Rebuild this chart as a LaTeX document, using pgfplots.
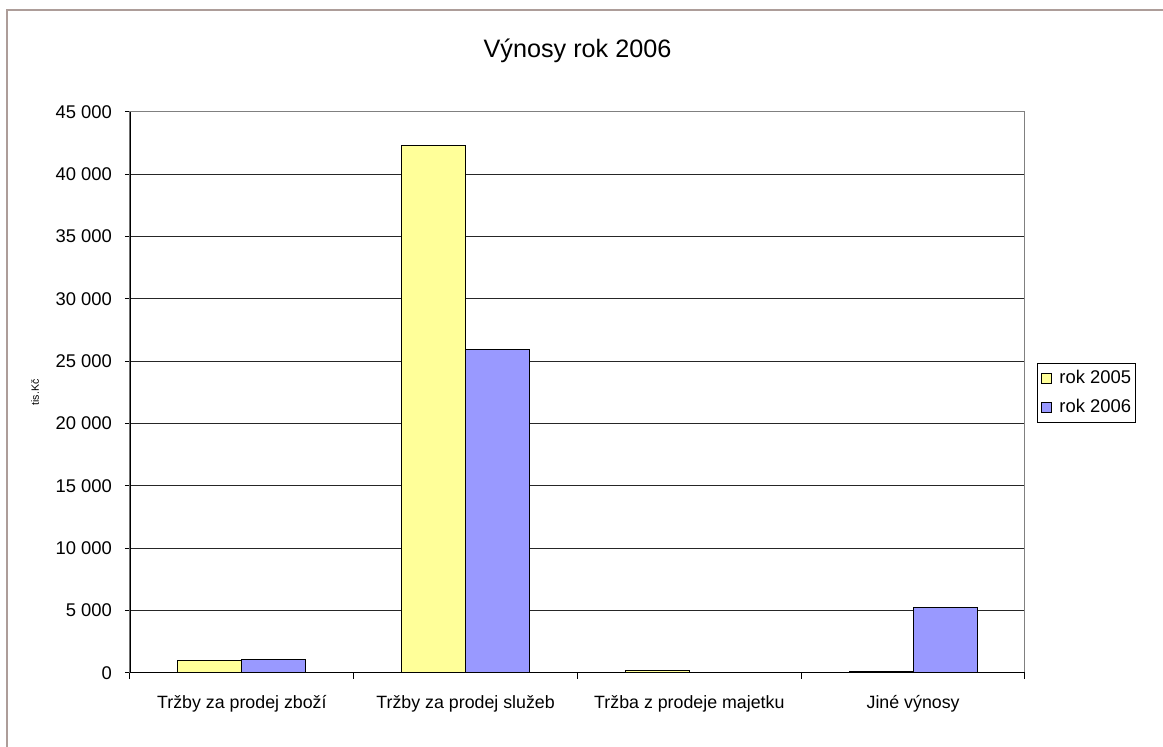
\documentclass[border=0pt]{standalone}
\usepackage{pgfplots}
\pgfplotsset{compat=1.18}
\usepackage{fontspec}
\setmainfont{Liberation Sans}
\definecolor{yel}{HTML}{FFFF99}
\definecolor{blu}{HTML}{9999FF}
\definecolor{framec}{HTML}{AD9D99}
\begin{document}
\begin{tikzpicture}
\useasboundingbox (-65pt,-37pt) rectangle (516.5pt,336.5pt);
\fill[white] (-65pt,-37pt) rectangle (516.5pt,336.5pt);
\draw[framec, line width=1pt] (-61.25pt,-40pt) -- (-61.25pt,331.5pt) -- (520pt,331.5pt);
\begin{axis}[
  at={(0,0)}, anchor=south west,
  scale only axis, width=447.5pt, height=280.5pt,
  ybar=0pt, bar width=32pt,
  xmin=-0.5, xmax=3.5, ymin=0, ymax=45000,
  ytick={0,5000,...,45000},
  scaled y ticks=false,
  /pgf/number format/.cd, 1000 sep={\ }, assume math mode=true, /pgfplots/.cd,
  xtick={0,1,2,3},
  xticklabels={Tržby za prodej zboží, Tržby za prodej služeb, Tržba z prodeje majetku, Jiné výnosy},
  minor xtick={-0.5,0.5,1.5,2.5,3.5},
  tick pos=left,
  tick align=outside,
  major tick length=2.5pt,
  minor tick length=3pt,
  major x tick style={draw=none},
  tick style={black, line width=0.5pt},
  ymajorgrids,
  major grid style={black!85, line width=0.5pt},
  axis line style={draw=black!50, line width=0.5pt},
  tick label style={font=\fontsize{9.2}{11}\selectfont},
  xticklabel style={yshift=-5pt, font=\fontsize{8.9}{11}\selectfont},
  yticklabel style={xshift=-3pt},
  title={Výnosy rok 2006},
  title style={at={(axis description cs:0.5,1.0873)}, anchor=center, yshift=0pt, font=\fontsize{12.6}{15}\selectfont},
  ylabel={tis.Kč},
  ylabel style={at={(axis description cs:-0.1061,0.5)}, anchor=center, font=\fontsize{5.3}{6}\selectfont},
  legend style={at={(axis description cs:1.0134,0.5526)}, anchor=north west,
    draw=black, line width=0.5pt, font=\fontsize{9.2}{11}\selectfont,
    inner xsep=0pt, inner ysep=0pt, row sep=0pt, nodes={inner ysep=3.3pt}},
  legend cell align=left,
  legend image code/.code={\draw[#1, draw=black, line width=0.4pt] (2pt,-2.5pt) rectangle (7pt,2.5pt); \path[draw=none, fill=none] (0pt,0pt) (9pt,0pt);},
]
\addplot[fill=yel, draw=black, line width=0.5pt] coordinates {(0,990) (1,42330) (2,215) (3,120)};
\addplot[fill=blu, draw=black, line width=0.5pt] coordinates {(0,1045) (1,25930) (2,0) (3,5240)};
\legend{rok 2005, rok 2006}
\draw[black, line width=0.6pt] (rel axis cs:0,1) -- (rel axis cs:0,0) -- (rel axis cs:1,0);
\end{axis}
\end{tikzpicture}
\end{document}
